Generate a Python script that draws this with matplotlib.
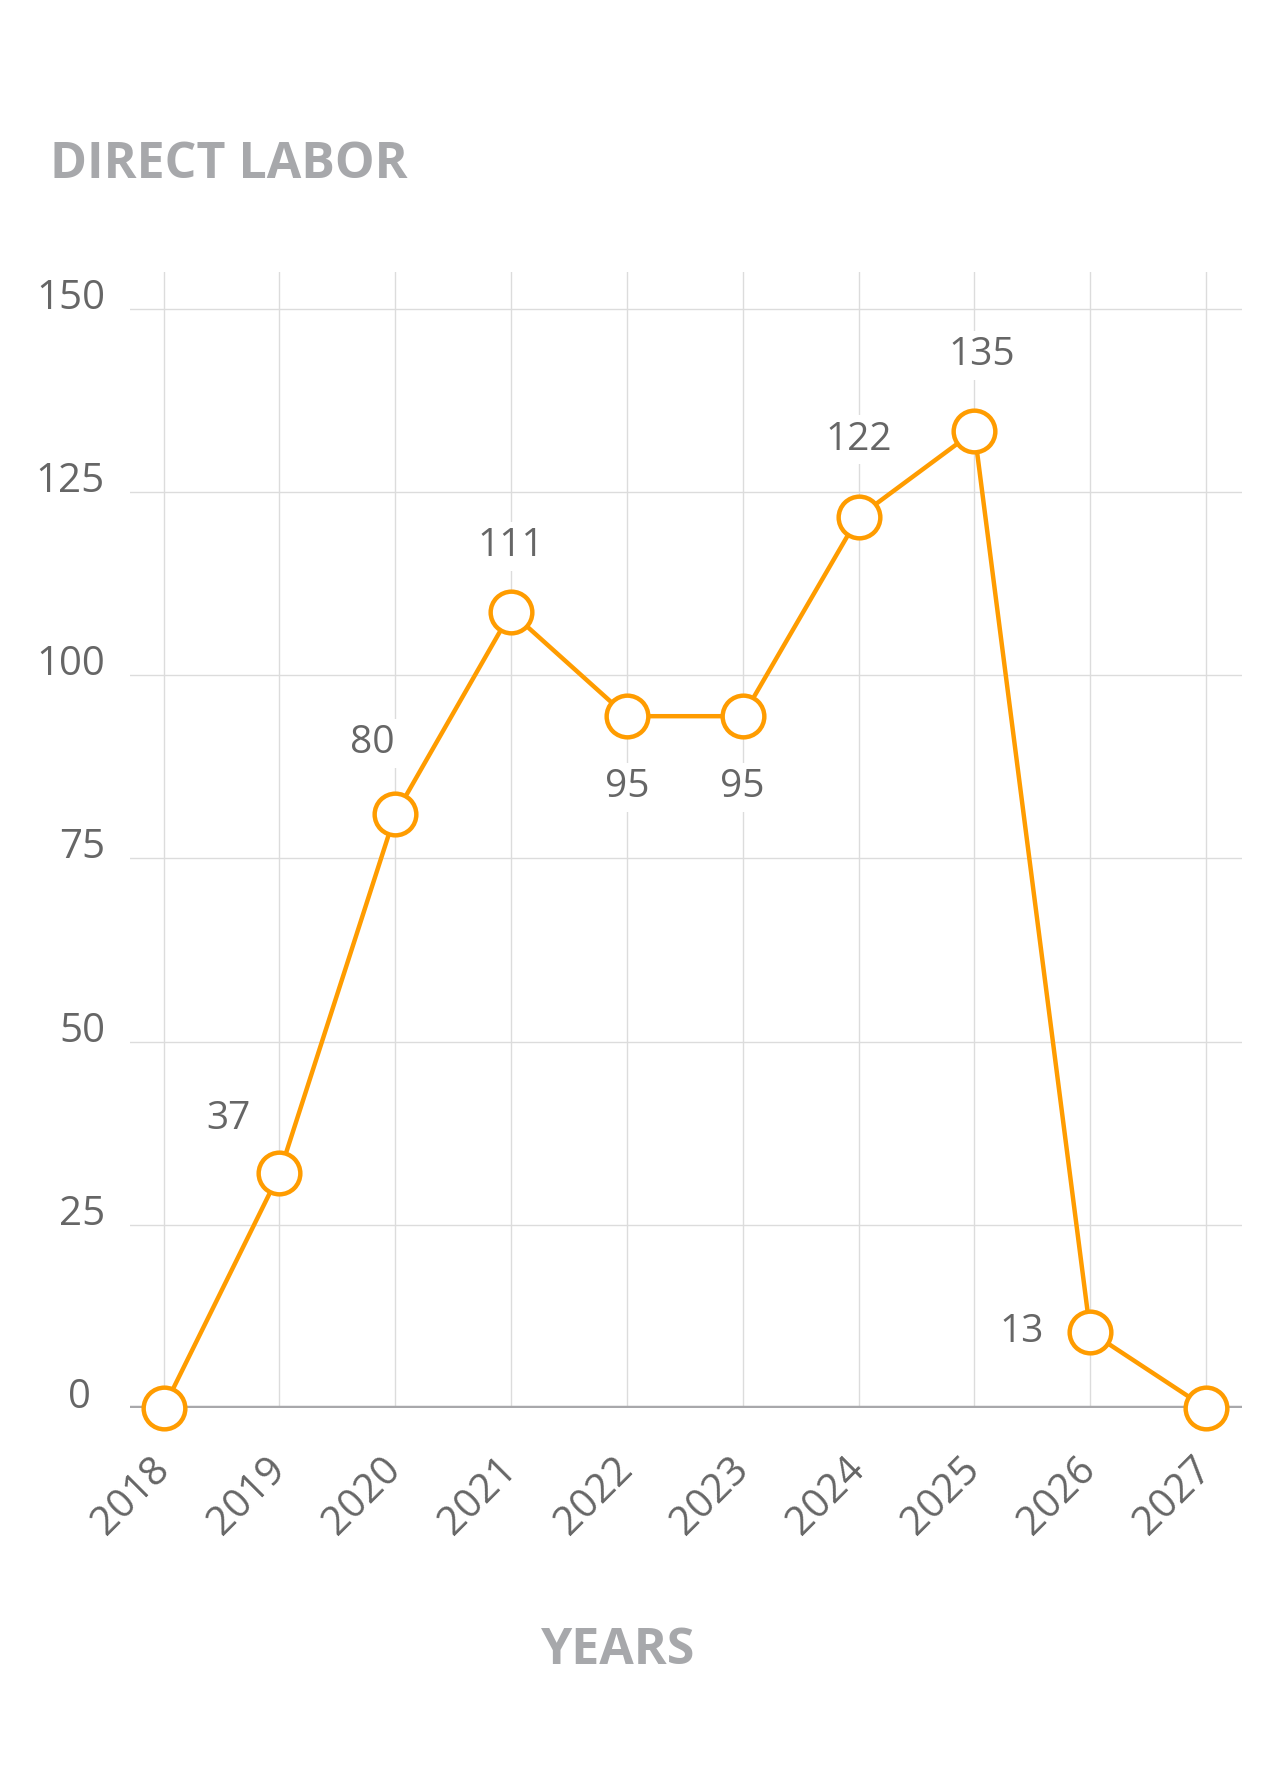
import numpy as np
import matplotlib.pyplot as plt

years = ['2018', '2019', '2020', '2021', '2022', '2023', '2024', '2025', '2026', '2027']
values = [0, 32, 81, 108.6, 94.4, 94.4, 121.6, 133.3, 10.4, 0]
point_labels = ['', '37', '80', '111', '95', '95', '122', '135', '13', '']
yticks = [0, 25, 50, 75, 100, 125, 150]

# label offsets in pixels (dx, dy)
label_off = [(0, 0), (-51, 54), (-23, 71), (0, 66), (0, -71),
             (0, -71), (0, 77), (7, 76), (-69, 0), (0, 0)]

orange = '#ff9c00'
grey_txt = '#666666'
grey_title = '#a7a8ab'
grid_c = '#dcdcdc'

plt.rcParams['font.family'] = ['Open Sans', 'DejaVu Sans']

fig = plt.figure(figsize=(12.81, 17.76), dpi=100)
ax = fig.add_axes([0.1015, 0.2072, 0.868, 0.6396])
x = np.arange(len(years))
ax.set_xlim(-0.29, 9.31)
ax.set_ylim(0, 155)

for v in yticks[1:]:
    ax.axhline(v, color=grid_c, lw=1, zorder=0)
for xi in x:
    ax.axvline(xi, color=grid_c, lw=1, zorder=0)
ax.axhline(0, color='#a8a8ab', lw=3.2, zorder=1)

for s in ax.spines.values():
    s.set_visible(False)

ax.plot(x, values, color=orange, lw=3.2, marker='o', ms=30, mfc='white',
        mec=orange, mew=3.2, clip_on=False, zorder=3)

for xi, v, lab, off in zip(x, values, point_labels, label_off):
    if lab:
        ax.annotate(lab, (xi, v), xytext=off, textcoords='offset pixels',
                    ha='center', va='center', fontsize=28, color=grey_txt,
                    zorder=2, bbox=dict(fc='white', ec='none', pad=4))

ax.set_yticks(yticks)
ax.set_yticklabels([str(t) for t in yticks])
ax.tick_params(axis='y', length=0, pad=18, labelsize=29, labelcolor=grey_txt)
for lab in ax.get_yticklabels():
    lab.set_va('baseline')
# the zero label sits a little further left in the original
ax.get_yticklabels()[0].set_x(-0.013)

ax.set_xticks(x)
ax.set_xticklabels(years, rotation=45, ha='right', va='center',
                   rotation_mode='anchor')
ax.tick_params(axis='x', length=0, pad=40, labelsize=29, labelcolor=grey_txt)

fig.text(50 / 1281, 1 - 178 / 1776, 'DIRECT LABOR', fontsize=36,
         fontweight='bold', color=grey_title, ha='left', va='baseline')
fig.text(618 / 1281, 1 - 1651 / 1776, 'YEARS', fontsize=36,
         fontweight='bold', color=grey_title, ha='center', va='center')

fig.savefig('out.png', dpi=100, facecolor='white')
